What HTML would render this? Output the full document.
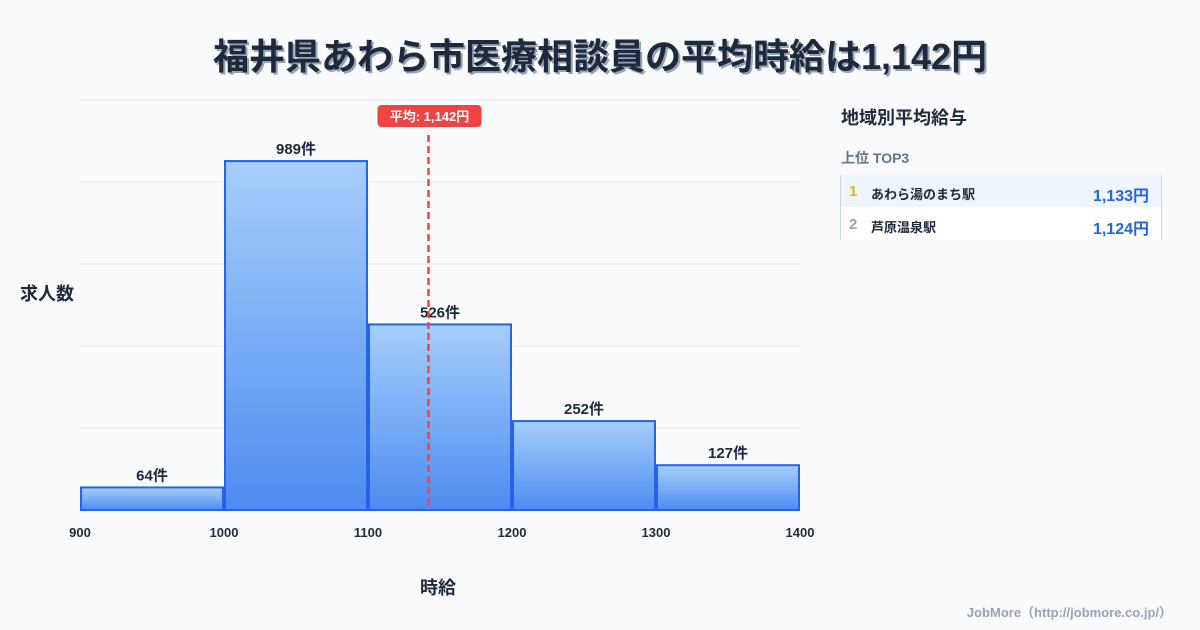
<!DOCTYPE html>
<html><head><meta charset="utf-8"><style>
body{margin:0;width:1200px;height:630px;background:#f8fafc;font-family:"Liberation Sans","Noto Sans CJK JP",sans-serif;overflow:hidden;position:relative;color:#1e293b}
.t{position:absolute;font-weight:700}
</style></head><body>
<div class="t" style="left:0;width:1200px;top:28px;text-align:center;font-size:36px;color:#1e293b;text-shadow:2px 2px 0 #94a3b8">福井県あわら市医療相談員の平均時給は1,142円</div>
<svg width="1200" height="630" style="position:absolute;left:0;top:0">
<defs><linearGradient id="g" x1="0" y1="0" x2="0" y2="1"><stop offset="0" stop-color="#a6cefb"/><stop offset="1" stop-color="#4d8cf0"/></linearGradient></defs>
<g id="grid"></g><g id="bars"></g><g id="ticks"></g><g id="mean"></g>
</svg>
<div class="t" style="left:20px;top:280px;font-size:18px">求人数</div>
<div class="t" style="left:420px;top:574px;font-size:18px">時給</div>
<div class="t" style="left:841px;top:104px;font-size:18px">地域別平均給与</div>
<div class="t" style="left:841px;top:148px;font-size:14px;color:#64748b">上位 TOP3</div>
<div style="position:absolute;left:840px;top:175px;width:320px;height:65px;border-left:1px solid #cbd5e1;border-right:1px solid #cbd5e1">
<div style="height:32px;background:#eef5ff;position:relative;font-weight:700">
<span style="position:absolute;left:8px;top:8px;font-size:15px;color:#eab308">1</span>
<span style="position:absolute;left:30px;top:9px;font-size:13px">あわら湯のまち駅</span>
<span style="position:absolute;right:12px;top:7px;font-size:16px;color:#2563eb">1,133円</span></div>
<div style="height:33px;background:#fff;position:relative;font-weight:700">
<span style="position:absolute;left:8px;top:9px;font-size:15px;color:#94a3b8">2</span>
<span style="position:absolute;left:30px;top:10px;font-size:13px">芦原温泉駅</span>
<span style="position:absolute;right:12px;top:8px;font-size:16px;color:#2563eb">1,124円</span></div>
</div>
<div class="t" style="right:28px;top:602px;font-size:13px;color:#94a3b8">JobMore（http://jobmore.co.jp/）</div>
<script>
const binStarts=[900,1000,1100,1200,1300];
const counts=[64,989,526,252,127];
const xTicks=[900,1000,1100,1200,1300,1400];
const meanValue=1142;
const NS="http://www.w3.org/2000/svg";
const x=v=>80+(v-900)*1.44;
const y=v=>510-v*410/1162;
function mk(t,a,p){const e=document.createElementNS(NS,t);for(const k in a)e.setAttribute(k,a[k]);document.getElementById(p).appendChild(e);return e;}
for(let i=0;i<6;i++){const l=mk('line',{x1:80,x2:800,y1:100+i*82,y2:100+i*82,stroke:'#e2e8f0','stroke-width':1},'grid');

}
binStarts.forEach((b,i)=>{
const r=mk('rect',{x:x(b)+1,y:y(counts[i]),width:x(b+100)-x(b)-2,height:510-y(counts[i]),fill:'url(#g)',stroke:'#2563eb','stroke-width':2},'bars');


const t=mk('text',{x:x(b+50),y:y(counts[i])-7,'text-anchor':'middle','font-size':15,'font-weight':700,fill:'#1e293b'},'bars');
t.textContent=counts[i]+'件';

});
xTicks.forEach(v=>{const t=mk('text',{x:x(v),y:537,'text-anchor':'middle','font-size':13,'font-weight':700,fill:'#1e293b'},'ticks');t.textContent=v;

});
const mx=x(meanValue);
const ml=mk('line',{x1:mx,x2:mx,y1:135,y2:510,stroke:'#ef4444','stroke-width':2.5,'stroke-dasharray':'7,4'},'mean');


const mr=mk('rect',{x:mx-51,y:105,width:104,height:22,rx:4,fill:'#ef4444'},'mean');


const mt=mk('text',{x:mx+1,y:121,'text-anchor':'middle','font-size':13,'font-weight':700,fill:'#fff'},'mean');
mt.textContent='平均: 1,142円';


</script>
</body></html>
